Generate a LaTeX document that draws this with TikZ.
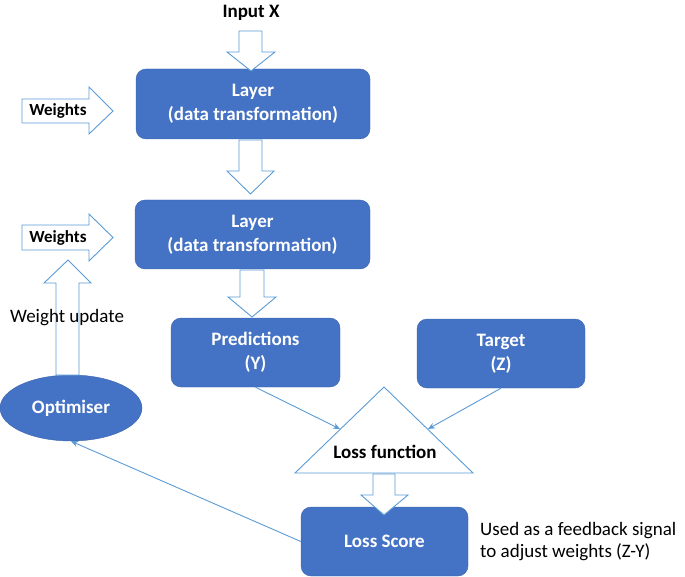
\documentclass[tikz,border=0pt]{standalone}
\usepackage{fontspec}
\setmainfont{Carlito}
\usetikzlibrary{shapes.geometric,arrows.meta}
\definecolor{boxblue}{HTML}{4472C4}
\definecolor{boxedge}{HTML}{3C65AF}
\definecolor{lineblue}{HTML}{5B9BD5}
\begin{document}
\begin{tikzpicture}[x=1pt,y=-1pt,
  box/.style={draw=boxedge, fill=boxblue, rounded corners=10pt, text=white,
    font=\bfseries\fontsize{19}{24}\selectfont, align=center, inner sep=0pt},
  hollow/.style={draw=lineblue, fill=white, line width=0.9pt, line join=miter},
  conn/.style={draw=lineblue, line width=0.9pt, -{Stealth[length=7pt,width=6pt]}},
  boldlbl/.style={font=\bfseries\fontsize{19}{24}\selectfont, inner sep=0pt},
  lbl/.style={font=\fontsize{19}{22}\selectfont, inner sep=0pt}]
\useasboundingbox (0,0) rectangle (685,577);

% boxes
\node[box, minimum width=234pt, minimum height=70pt] (layer1) at (253,104) {Layer\\(data transformation)};
\node[box, minimum width=235pt, minimum height=69pt] (layer2) at (252.5,234.5) {Layer\\(data transformation)};
\node[box, minimum width=169pt, minimum height=69pt] (pred) at (255.5,352.5) {Predictions\\(Y)};
\node[box, minimum width=168pt, minimum height=69pt] (target) at (501,353.5) {Target\\(Z)};
\node[box, minimum width=167pt, minimum height=69pt] (score) at (384.5,541.5) {Loss Score};
\node[box, ellipse, minimum width=142pt, minimum height=66pt, rounded corners=0pt] (opt) at (71,408) {Optimiser};

% loss function triangle
\draw[draw=lineblue, line width=0.9pt, fill=white] (384,387) -- (295,473) -- (473,473) -- cycle;
\coordinate (tl) at (340,429);
\coordinate (tr) at (428,429);
\node[boldlbl] (lossfn) at (385,452) {Loss function};

% hollow block arrows
\draw[hollow] (239,31) -- (262,31) -- (262,52) -- (275,52) -- (251,71) -- (227,52) -- (239,52) -- cycle;
\draw[hollow] (239,140) -- (262,140) -- (262,171) -- (274,171) -- (250.5,194) -- (227,171) -- (239,171) -- cycle;
\draw[hollow] (240,270) -- (264,270) -- (264,297) -- (276,297) -- (252,317) -- (228,297) -- (240,297) -- cycle;
\draw[hollow] (373,474) -- (395,474) -- (395,495) -- (408,495) -- (384,515) -- (361,495) -- (373,495) -- cycle;
\draw[hollow] (56,375) -- (79,375) -- (79,283) -- (91,283) -- (68,260) -- (44,283) -- (56,283) -- cycle;
\draw[hollow] (22,99) -- (89,99) -- (89,87) -- (113,111) -- (89,134) -- (89,123) -- (22,123) -- cycle;
\draw[hollow] (22,225) -- (89,225) -- (89,214) -- (113,237.5) -- (89,261) -- (89,250) -- (22,250) -- cycle;

% labels
\node[boldlbl] (input) at (251,13) {Input X};
\node[boldlbl, font=\bfseries\fontsize{17}{20}\selectfont] (w1) at (58,111) {Weights};
\node[boldlbl, font=\bfseries\fontsize{17}{20}\selectfont] (w2) at (58,238) {Weights};
\node[lbl] (wu) at (67,318) {Weight update};
\node[lbl, anchor=west, align=left] (note) at (480,542) {Used as a feedback signal\\to adjust weights (Z-Y)};

% connectors
\draw[conn] (pred.south) -- (tl);
\draw[conn] (target.south) -- (tr);
\draw[conn] (score.west) -- (opt.south);
\end{tikzpicture}
\end{document}
